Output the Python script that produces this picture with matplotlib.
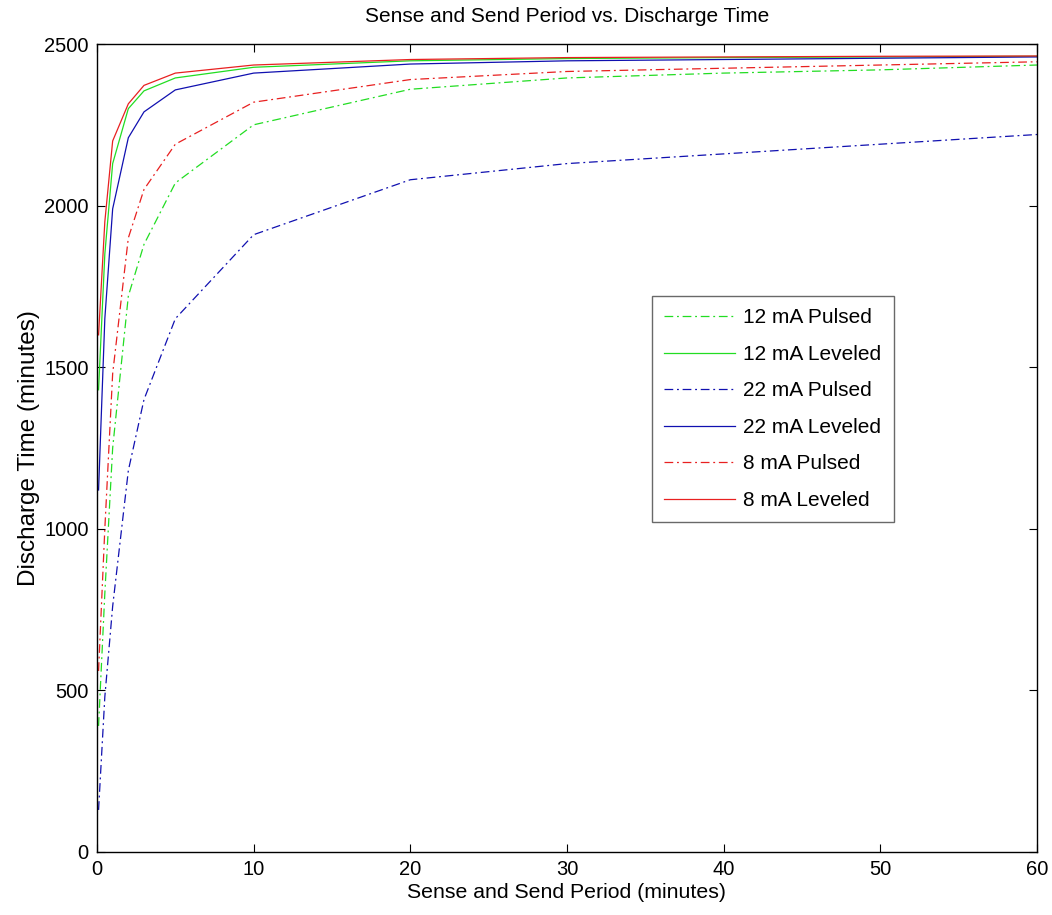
import numpy as np
import matplotlib.pyplot as plt

plt.rcParams['font.family'] = ['Liberation Sans', 'DejaVu Sans']

# sense and send period (minutes)
period = [0.1, 0.5, 1, 2, 3, 5, 10, 20, 30, 40, 50, 60]

# discharge time (minutes)
pulsed_12 = [390, 800, 1250, 1720, 1880, 2070, 2250, 2360, 2395, 2410, 2420, 2435]
leveled_12 = [1430, 1850, 2130, 2300, 2355, 2395, 2428, 2448, 2455, 2458, 2460, 2462]
pulsed_22 = [130, 480, 760, 1180, 1400, 1650, 1910, 2080, 2130, 2160, 2190, 2220]
leveled_22 = [1120, 1650, 1990, 2210, 2290, 2358, 2410, 2438, 2448, 2452, 2456, 2460]
pulsed_8 = [560, 1000, 1480, 1900, 2050, 2190, 2320, 2390, 2415, 2425, 2435, 2445]
leveled_8 = [1600, 1950, 2200, 2315, 2372, 2410, 2435, 2452, 2458, 2460, 2462, 2463]

green = '#22dd22'
blue = '#1010b0'
red = '#e82020'
dashdot = (0, (7, 3, 1.5, 3))

fig = plt.figure(figsize=(10.52, 9.15), dpi=100)
ax = fig.add_axes([0.0922, 0.0689, 0.8935, 0.883])

ax.plot(period, pulsed_12, color=green, ls=dashdot, lw=0.9, label='12 mA Pulsed')
ax.plot(period, leveled_12, color=green, ls='-', lw=0.9, label='12 mA Leveled')
ax.plot(period, pulsed_22, color=blue, ls=dashdot, lw=0.9, label='22 mA Pulsed')
ax.plot(period, leveled_22, color=blue, ls='-', lw=0.9, label='22 mA Leveled')
ax.plot(period, pulsed_8, color=red, ls=dashdot, lw=0.9, label='8 mA Pulsed')
ax.plot(period, leveled_8, color=red, ls='-', lw=0.9, label='8 mA Leveled')

ax.set_xlim(0, 60)
ax.set_ylim(0, 2500)
ax.set_xticks(np.arange(0, 61, 10))
ax.set_yticks(np.arange(0, 2501, 500))
ax.tick_params(direction='in', top=True, right=True, length=6, labelsize=14.5, pad=6)
for s in ax.spines.values():
    s.set_linewidth(1.0)

ax.set_title('Sense and Send Period vs. Discharge Time', fontsize=15, pad=16)
ax.set_xlabel('Sense and Send Period (minutes)', fontsize=15.3, labelpad=3)
ax.set_ylabel('Discharge Time (minutes)', fontsize=17.5, labelpad=3)

leg = ax.legend(loc='lower left', bbox_to_anchor=(0.59, 0.408), fontsize=15,
                frameon=True, fancybox=False, edgecolor='#444444',
                handlelength=3.4, handletextpad=0.4, labelspacing=0.84,
                borderpad=0.6, borderaxespad=0)
leg.get_frame().set_linewidth(1.0)

fig.savefig('out.png', dpi=100)
